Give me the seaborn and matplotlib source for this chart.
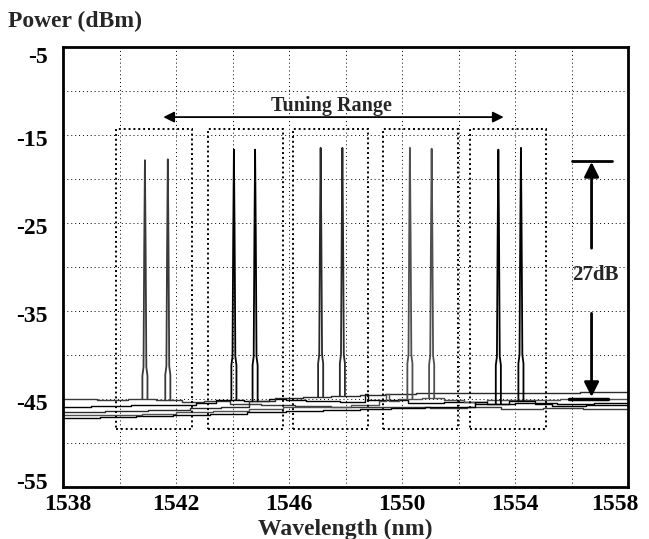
import numpy as np
import matplotlib
matplotlib.use("Agg")
import matplotlib.pyplot as plt
import matplotlib.transforms as mtransforms
import seaborn as sns
from matplotlib.patches import Rectangle

# peaks: two lines per tuning position
peak_wl = [1540.90, 1541.71, 1544.05, 1544.80, 1547.12, 1547.89, 1550.28, 1551.05, 1553.41, 1554.21]
peak_db = [-17.9, -17.8, -16.7, -16.7, -16.5, -16.5, -16.5, -16.6, -16.7, -16.5]
peak_trace = [0, 0, 1, 1, 2, 2, 3, 3, 4, 4]

# shape of one peak (offset nm, drop below top in dB)
peak_dx = [-0.09, -0.05, -0.025, 0.0, 0.025, 0.05, 0.09]
peak_drop = [24.5, 23.5, 10.0, 0.0, 10.0, 23.5, 24.5]

# noise floor of the five spectra
t1_wl = [1538, 1539.2, 1540.3, 1541.3, 1542.2, 1543.0, 1543.9, 1545.0, 1546.2, 1547.5, 1548.6, 1549.8, 1551.0, 1552.3, 1553.5, 1555.0, 1556.4, 1558]
t1_db = [-45.0, -45.1, -45.0, -45.2, -45.4, -45.3, -45.6, -45.7, -45.8, -45.9, -46.0, -45.9, -46.1, -46.0, -46.2, -46.1, -46.2, -46.2]
t2_wl = [1538, 1539.0, 1540.4, 1541.6, 1542.7, 1543.4, 1544.4, 1545.3, 1545.9, 1546.6, 1547.8, 1548.7, 1548.8, 1550.2, 1551.5, 1552.6, 1554.0, 1555.5, 1556.8, 1558]
t2_db = [-45.9, -45.8, -45.7, -45.7, -45.5, -45.1, -45.3, -45.0, -45.2, -45.3, -45.4, -44.5, -45.2, -45.5, -45.4, -45.6, -45.5, -45.6, -45.5, -45.6]
t3_wl = [1538, 1539.5, 1541.0, 1542.5, 1543.6, 1544.6, 1545.5, 1546.5, 1547.5, 1548.5, 1549.4, 1550.5, 1551.6, 1552.7, 1553.8, 1555.0, 1556.3, 1557.3, 1558]
t3_db = [-46.5, -46.4, -46.3, -46.1, -45.9, -45.3, -44.9, -44.8, -44.7, -44.6, -44.5, -44.4, -44.4, -44.3, -44.4, -44.3, -44.2, -44.2, -44.2]
t4_wl = [1538, 1539.4, 1540.8, 1542.0, 1543.3, 1544.6, 1545.8, 1547.0, 1548.2, 1549.2, 1549.45, 1549.55, 1549.9, 1550.7, 1551.5, 1552.2, 1553.0, 1554.4, 1555.6, 1557.0, 1558]
t4_db = [-46.9, -46.8, -46.7, -46.5, -46.4, -46.2, -46.0, -45.9, -45.7, -45.3, -44.5, -45.3, -45.0, -44.9, -45.1, -45.4, -45.2, -45.1, -45.0, -45.0, -45.0]
t5_wl = [1538, 1539.3, 1540.6, 1541.9, 1543.2, 1544.5, 1545.9, 1547.2, 1548.5, 1549.6, 1550.8, 1551.9, 1552.6, 1553.0, 1553.8, 1554.7, 1555.3, 1556.5, 1558]
t5_db = [-47.2, -47.1, -47.0, -46.8, -46.7, -46.5, -46.4, -46.3, -46.2, -46.1, -46.0, -45.9, -45.4, -45.6, -45.3, -45.6, -45.8, -45.7, -45.8]

traces_wl = [t1_wl, t2_wl, t3_wl, t4_wl, t5_wl]
traces_db = [t1_db, t2_db, t3_db, t4_db, t5_db]
trace_colors = ["#3a3a3a", "black", "#2a2a2a", "#505050", "black"]

# dotted boxes around each pair
box_left = [1539.88, 1543.12, 1546.13, 1549.31, 1552.41]
box_right = [1542.56, 1545.78, 1548.81, 1551.99, 1555.09]
box_top = -14.3
box_bottom = -48.4

sns.set_theme(style="white")
plt.rcParams["font.family"] = ["Liberation Serif", "DejaVu Serif"]
plt.rcParams["font.weight"] = "bold"

fig = plt.figure(figsize=(6.49, 5.39), dpi=100)
ax = fig.add_axes([63 / 649, 1 - 486.7 / 539, 565 / 649, 440 / 539])

for wl, db, c in zip(traces_wl, traces_db, trace_colors):
    sns.lineplot(x=wl, y=db, ax=ax, color=c, lw=1.0, drawstyle="steps-post",
                 estimator=None, sort=False)

for w, p, t in zip(peak_wl, peak_db, peak_trace):
    wl = traces_wl[t]
    db = traces_db[t]
    i = np.searchsorted(wl, w, side="right") - 1
    floor = db[i]
    xs = [w + peak_dx[0]] + [w + d for d in peak_dx] + [w + peak_dx[-1]]
    ys = [floor] + [p - d for d in peak_drop] + [floor]
    sns.lineplot(x=xs, y=ys, ax=ax, color=trace_colors[t], lw=1.3,
                 estimator=None, sort=False)

for l, r in zip(box_left, box_right):
    ax.add_patch(Rectangle((l, box_bottom), r - l, box_top - box_bottom, fill=False,
                           ec="black", lw=1.4, ls=(0, (1, 1.5)), zorder=3))

# tuning range
ax.annotate("", xy=(1553.6, -13.0), xytext=(1541.55, -13.0),
            arrowprops=dict(arrowstyle="<|-|>", color="black", lw=1.3, mutation_scale=16,
                            shrinkA=0, shrinkB=0))
ax.text(1547.5, -11.7, "Tuning Range", ha="center", va="center", fontsize=14.5,
        fontweight="bold")

# 27 dB marker
ax.plot([1556.0, 1557.45], [-18.0, -18.0], color="black", lw=2)
ax.annotate("", xy=(1556.71, -18.1), xytext=(1556.71, -27.9),
            arrowprops=dict(arrowstyle="-|>", color="black", lw=2, mutation_scale=22,
                            shrinkA=0, shrinkB=0))
ax.annotate("", xy=(1556.71, -44.8), xytext=(1556.71, -35.3),
            arrowprops=dict(arrowstyle="-|>", color="black", lw=2, mutation_scale=22,
                            shrinkA=0, shrinkB=0))
ax.plot([1555.9, 1557.3], [-45.05, -45.05], color="black", lw=2.5)
ax.text(1556.83, -30.9, "27dB", ha="center", va="center", fontsize=15, fontweight="bold")

ax.set_xlim(1538, 1558)
ax.set_ylim(-55, -5)
xt = [1538 + 2 * k for k in range(11)]
yt = [-55 + 5 * k for k in range(11)]
ax.set_xticks(xt)
ax.set_yticks(yt)
ax.set_xticklabels([str(v) if (v - 1538) % 4 == 0 else "" for v in xt])
ax.set_yticklabels([str(v) if (v + 55) % 10 == 0 else "" for v in yt])
ax.tick_params(axis="both", length=0, labelsize=17, colors="black")
ax.tick_params(axis="x", pad=5)
ax.tick_params(axis="y", pad=11)
ax.grid(True, color="black", lw=0.7, ls=(0, (1, 3)))
for s in ax.spines.values():
    s.set_color("black")
    s.set_linewidth(2)

# the instrument keeps the end labels inside the frame
fig.canvas.draw()
xlabs = ax.get_xticklabels()
ylabs = ax.get_yticklabels()
for lab in xlabs + ylabs:
    lab.set_fontweight("bold")
xlabs[0].set_transform(xlabs[0].get_transform()
                       + mtransforms.ScaledTranslation(5 / 100, 0, fig.dpi_scale_trans))
xlabs[-1].set_transform(xlabs[-1].get_transform()
                        + mtransforms.ScaledTranslation(-13 / 100, 0, fig.dpi_scale_trans))
for k, lab in enumerate(ylabs):
    dy = -3
    if k == 0:
        dy = 6
    elif k == len(ylabs) - 1:
        dy = -8
    lab.set_transform(lab.get_transform()
                      + mtransforms.ScaledTranslation(0, dy / 100, fig.dpi_scale_trans))

ax.set_xlabel("Wavelength (nm)", fontsize=17, fontweight="bold", labelpad=3)
ax.set_ylabel("")
fig.text(8 / 649, 1 - 21 / 539, "Power (dBm)", ha="left", va="center", fontsize=17,
         fontweight="bold")

fig.savefig("out.png", dpi=100)
